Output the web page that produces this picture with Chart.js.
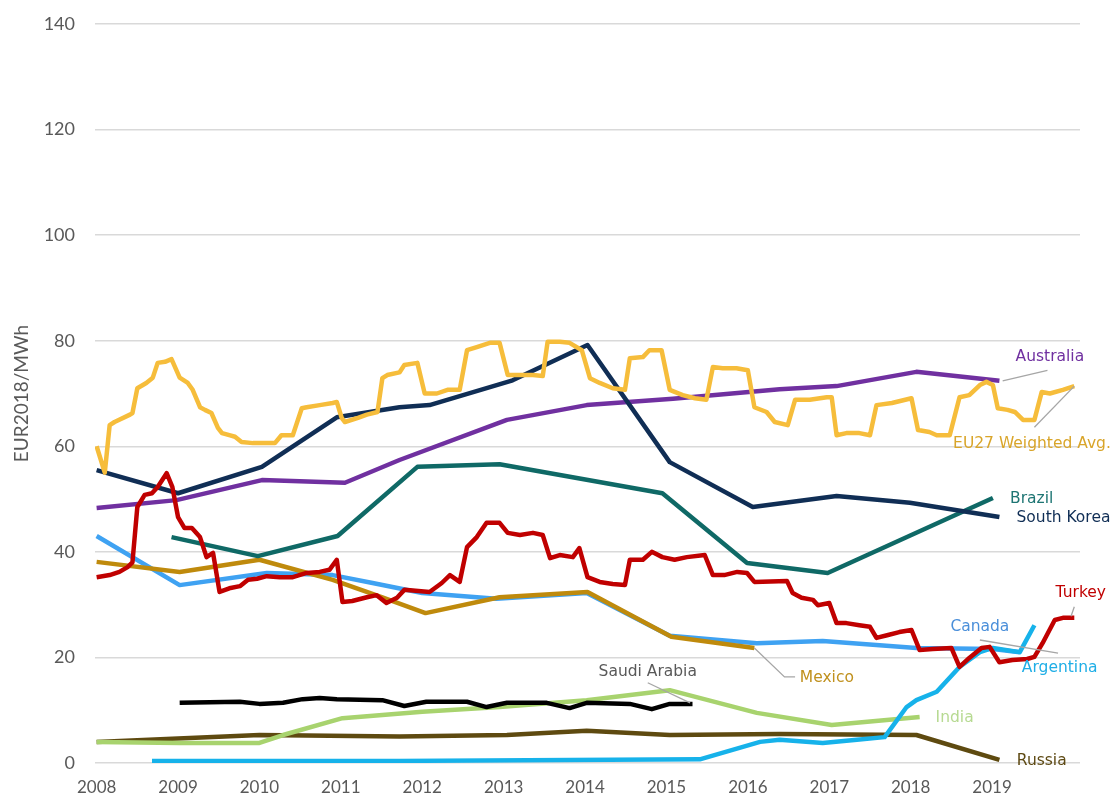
<!DOCTYPE html>
<html>
<head>
<meta charset="utf-8">
<script src="https://cdn.jsdelivr.net/npm/chart.js@4.4.0/dist/chart.umd.min.js"></script>
<style>
  html, body { margin: 0; padding: 0; background: #fff; }
  #wrap { width: 1112px; height: 798px; position: relative; }
</style>
</head>
<body>
<div id="wrap"><canvas id="chart"></canvas></div>
<script>
// [year, EUR2018/MWh]
const eu27 = [[2008.00,60],[2008.10,55],[2008.16,64],[2008.22,64.6],[2008.41,66],[2008.44,66.3],[2008.50,71],[2008.61,72],[2008.69,73],[2008.75,75.8],[2008.84,76],[2008.92,76.5],[2009.02,73],[2009.12,72],[2009.18,70.7],[2009.27,67.4],[2009.33,66.9],[2009.41,66.3],[2009.49,63.5],[2009.54,62.5],[2009.63,62.1],[2009.70,61.8],[2009.78,60.8],[2009.92,60.6],[2010.09,60.6],[2010.19,60.6],[2010.27,62.1],[2010.41,62.1],[2010.52,67.2],[2010.58,67.4],[2010.74,67.8],[2010.90,68.2],[2010.95,68.4],[2011.01,65.4],[2011.05,64.6],[2011.21,65.4],[2011.32,66],[2011.45,66.5],[2011.51,72.9],[2011.57,73.5],[2011.72,74],[2011.78,75.4],[2011.94,75.8],[2012.03,70],[2012.18,70],[2012.31,70.7],[2012.46,70.7],[2012.55,78.2],[2012.67,78.8],[2012.83,79.6],[2012.95,79.6],[2013.05,73.5],[2013.20,73.5],[2013.36,73.5],[2013.48,73.3],[2013.54,79.8],[2013.69,79.8],[2013.81,79.6],[2013.96,78.2],[2014.06,72.9],[2014.18,72],[2014.34,71],[2014.49,70.7],[2014.55,76.7],[2014.71,76.9],[2014.79,78.2],[2014.94,78.2],[2015.04,70.7],[2015.20,69.7],[2015.35,69.1],[2015.49,68.8],[2015.57,75],[2015.69,74.8],[2015.86,74.8],[2016.00,74.4],[2016.08,67.4],[2016.23,66.5],[2016.33,64.6],[2016.49,64],[2016.58,68.8],[2016.76,68.8],[2016.97,69.3],[2017.03,69.3],[2017.09,62.1],[2017.21,62.5],[2017.37,62.5],[2017.50,62.1],[2017.58,67.8],[2017.77,68.2],[2018.01,69.1],[2018.09,63.1],[2018.23,62.7],[2018.32,62.1],[2018.48,62.1],[2018.60,69.3],[2018.72,69.7],[2018.85,71.6],[2018.93,72.2],[2019.01,71.6],[2019.07,67.2],[2019.19,66.9],[2019.28,66.5],[2019.38,65],[2019.52,65],[2019.61,70.3],[2019.71,70],[2019.87,70.7],[2020.01,71.4]];
const turkey = [[2008.00,35.2],[2008.16,35.6],[2008.28,36.2],[2008.38,37.1],[2008.44,38],[2008.50,48.5],[2008.59,50.8],[2008.68,51.1],[2008.75,52.3],[2008.86,54.9],[2008.93,52.3],[2009.00,46.6],[2009.08,44.5],[2009.17,44.5],[2009.27,42.8],[2009.35,39],[2009.43,39.8],[2009.51,32.4],[2009.63,33.1],[2009.76,33.5],[2009.86,34.7],[2009.97,34.9],[2010.09,35.4],[2010.25,35.2],[2010.41,35.2],[2010.58,36],[2010.74,36.2],[2010.86,36.6],[2010.95,38.5],[2011.02,30.5],[2011.14,30.7],[2011.32,31.4],[2011.44,31.8],[2011.56,30.3],[2011.69,31.3],[2011.78,32.8],[2012.09,32.4],[2012.24,34.1],[2012.34,35.6],[2012.46,34.3],[2012.55,40.9],[2012.67,42.8],[2012.79,45.5],[2012.95,45.5],[2013.05,43.6],[2013.20,43.2],[2013.36,43.6],[2013.48,43.2],[2013.57,38.8],[2013.69,39.4],[2013.85,39],[2013.93,40.7],[2014.03,35.2],[2014.18,34.3],[2014.34,33.9],[2014.49,33.7],[2014.55,38.5],[2014.71,38.5],[2014.82,40],[2014.95,39],[2015.10,38.5],[2015.25,39],[2015.47,39.4],[2015.57,35.6],[2015.71,35.6],[2015.87,36.2],[2015.99,36],[2016.08,34.3],[2016.48,34.5],[2016.55,32.2],[2016.66,31.3],[2016.80,30.9],[2016.86,29.9],[2017.00,30.3],[2017.09,26.5],[2017.21,26.5],[2017.37,26.1],[2017.50,25.8],[2017.58,23.7],[2017.71,24.2],[2017.86,24.8],[2018.01,25.2],[2018.11,21.4],[2018.27,21.6],[2018.50,21.8],[2018.60,18.2],[2018.72,19.9],[2018.87,21.8],[2018.97,22],[2019.09,19.1],[2019.25,19.5],[2019.43,19.7],[2019.52,20.1],[2019.62,22.7],[2019.77,27.1],[2019.87,27.5],[2020.01,27.5]];
const southKorea = [[2008.00,55.5],[2009.00,51.1],[2010.03,56.1],[2010.95,65.5],[2011.72,67.4],[2012.09,67.8],[2013.11,72.5],[2014.03,79.2],[2015.04,57],[2016.06,48.5],[2017.09,50.6],[2017.99,49.3],[2019.09,46.6]];
const australia = [[2008.00,48.3],[2008.98,49.8],[2010.03,53.6],[2011.05,53.1],[2011.72,57.4],[2013.04,65],[2014.02,67.8],[2015.08,69],[2016.39,70.8],[2017.09,71.4],[2018.07,74.1],[2019.09,72.4]];
const brazil = [[2008.92,42.8],[2009.98,39.2],[2010.96,43],[2011.94,56.1],[2012.95,56.6],[2014.95,51.1],[2015.99,37.9],[2016.98,36],[2019.01,50.2]];
const canada = [[2008.00,43],[2009.02,33.7],[2010.09,36],[2010.90,35.6],[2011.39,34.1],[2012.00,32.2],[2012.91,31.1],[2014.02,32.2],[2015.04,24.1],[2016.11,22.7],[2016.92,23.1],[2018.07,21.8],[2019.01,21.6],[2019.34,21]];
const argentina = [[2008.68,0.4],[2011.72,0.4],[2015.41,0.7],[2016.15,4],[2016.39,4.4],[2016.92,3.8],[2017.34,4.4],[2017.68,4.9],[2017.95,10.6],[2018.07,11.9],[2018.32,13.5],[2018.60,18.2],[2018.85,21],[2019.01,21.8],[2019.34,21],[2019.52,26.1]];
const mexico = [[2008.00,38.1],[2009.02,36.2],[2010.00,38.5],[2010.90,34.7],[2011.51,31.4],[2012.04,28.4],[2012.95,31.4],[2014.03,32.4],[2015.06,23.9],[2016.08,21.8]];
const saudiArabia = [[2009.02,11.4],[2009.76,11.6],[2010.00,11.2],[2010.29,11.4],[2010.53,12.1],[2010.74,12.3],[2010.95,12.1],[2011.51,11.9],[2011.78,10.8],[2012.05,11.6],[2012.55,11.6],[2012.79,10.6],[2013.04,11.4],[2013.53,11.4],[2013.81,10.4],[2014.02,11.4],[2014.55,11.2],[2014.82,10.2],[2015.04,11.2],[2015.32,11.2]];
const india = [[2008.00,4],[2009.02,3.8],[2010.00,3.8],[2010.29,5.3],[2011.02,8.5],[2012.00,9.7],[2012.95,10.6],[2014.02,11.9],[2015.04,13.8],[2016.11,9.5],[2017.03,7.2],[2018.11,8.7]];
const russia = [[2008.00,4],[2010.00,5.3],[2011.72,5],[2013.04,5.3],[2014.02,6.1],[2015.04,5.3],[2016.39,5.5],[2018.07,5.3],[2019.09,0.6]];

const yearTicks = [2008, 2009, 2010, 2011, 2012, 2013, 2014, 2015, 2016, 2017, 2018, 2019];
const yTicks = [0, 20, 40, 60, 80, 100, 120, 140];

// first in list is drawn on top
const series = [
  { label: 'Turkey', data: turkey, color: '#C00000' },
  { label: 'EU27 Weighted Avg.', data: eu27, color: '#F6BD3B' },
  { label: 'Saudi Arabia', data: saudiArabia, color: '#000000' },
  { label: 'South Korea', data: southKorea, color: '#102E55' },
  { label: 'Australia', data: australia, color: '#7030A0' },
  { label: 'Brazil', data: brazil, color: '#0F6966' },
  { label: 'Mexico', data: mexico, color: '#BF8A0C' },
  { label: 'Argentina', data: argentina, color: '#16B2EA' },
  { label: 'Canada', data: canada, color: '#3FA2F2' },
  { label: 'India', data: india, color: '#A8D36E' },
  { label: 'Russia', data: russia, color: '#5E4A10' },
];

// direct labels: text, colour, anchor [year, value], align, leader line points
const labels = [
  { text: 'Australia', color: '#7030A0', at: [2019.71, 76.9], align: 'center', leader: [[2019.13, 72.4], [2019.68, 74.4]] },
  { text: 'EU27 Weighted Avg.', color: '#D9A52A', at: [2019.49, 60.4], align: 'center', leader: [[2020.01, 71.4], [2019.52, 63.6]] },
  { text: 'Brazil', color: '#1E7573', at: [2019.22, 50.0], align: 'left' },
  { text: 'South Korea', color: '#102E55', at: [2019.30, 46.4], align: 'left' },
  { text: 'Turkey', color: '#C00000', at: [2020.09, 32.2], align: 'center', leader: [[2019.97, 27.8], [2020.01, 29.6]] },
  { text: 'Canada', color: '#4A8FDA', at: [2018.85, 25.8], align: 'center', leader: [[2018.85, 23.3], [2019.81, 20.8]] },
  { text: 'Argentina', color: '#1FAEE6', at: [2019.83, 18.0], align: 'center' },
  { text: 'Mexico', color: '#C0911E', at: [2016.97, 16.1], align: 'center', leader: [[2016.08, 21.8], [2016.45, 16.3], [2016.58, 16.3]] },
  { text: 'Saudi Arabia', color: '#595959', at: [2014.77, 17.2], align: 'center', leader: [[2014.77, 15.2], [2015.29, 11.4]] },
  { text: 'India', color: '#B7DA92', at: [2018.54, 8.5], align: 'center' },
  { text: 'Russia', color: '#5E4A14', at: [2019.61, 0.4], align: 'center' },
];

const directLabels = {
  id: 'directLabels',
  afterDatasetsDraw(chart) {
    const { ctx, scales: { x, y } } = chart;
    ctx.save();
    labels.forEach(l => {
      if (l.leader) {
        ctx.beginPath();
        l.leader.forEach((p, i) => {
          const px = x.getPixelForValue(p[0]);
          const py = y.getPixelForValue(p[1]);
          if (i === 0) ctx.moveTo(px, py); else ctx.lineTo(px, py);
        });
        ctx.strokeStyle = '#A6A6A6';
        ctx.lineWidth = 1.3;
        ctx.stroke();
      }
      ctx.font = '15.5px "DejaVu Sans"';
      ctx.fillStyle = l.color;
      ctx.textAlign = l.align;
      ctx.textBaseline = 'middle';
      ctx.fillText(l.text, x.getPixelForValue(l.at[0]), y.getPixelForValue(l.at[1]));
    });
    ctx.restore();
  }
};

new Chart(document.getElementById('chart'), {
  type: 'line',
  data: {
    datasets: series.map(s => ({
      label: s.label,
      data: s.data.map(p => ({ x: p[0], y: p[1] })),
      borderColor: s.color,
      borderWidth: 4.5,
      pointRadius: 0,
      tension: 0,
      fill: false,
      borderJoinStyle: 'round',
    }))
  },
  options: {
    responsive: true,
    maintainAspectRatio: false,
    animation: false,
    layout: { padding: { top: 24, right: 32, left: 0, bottom: 0 } },
    plugins: {
      legend: { display: false },
      tooltip: { enabled: false },
    },
    scales: {
      x: {
        type: 'linear',
        min: 2007.98,
        max: 2020.08,
        afterFit: (scale) => { scale.height = 35; },
        afterBuildTicks: (scale) => { scale.ticks = yearTicks.map(v => ({ value: v })); },
        grid: { display: false, drawTicks: false },
        border: { display: false },
        ticks: {
          autoSkip: false,
          maxRotation: 0,
          padding: 14,
          color: '#595959',
          font: { family: 'Lato', size: 17 },
          callback: (v) => String(v),
        },
      },
      y: {
        min: 0,
        max: 140,
        afterFit: (scale) => { scale.width = 95; scale.paddingTop = 0; scale.paddingBottom = 0; },
        afterBuildTicks: (scale) => { scale.ticks = yTicks.map(v => ({ value: v })); },
        grid: { color: '#D9D9D9', lineWidth: 1.5, drawTicks: false },
        border: { display: false },
        ticks: {
          padding: 20,
          color: '#595959',
          font: { family: 'Lato', size: 18 },
        },
        title: {
          display: true,
          text: 'EUR2018/MWh',
          color: '#595959',
          font: { family: 'Lato', size: 19 },
          padding: { top: 10, bottom: 0 },
        },
      },
    },
  },
  plugins: [directLabels],
});
</script>
</body>
</html>
